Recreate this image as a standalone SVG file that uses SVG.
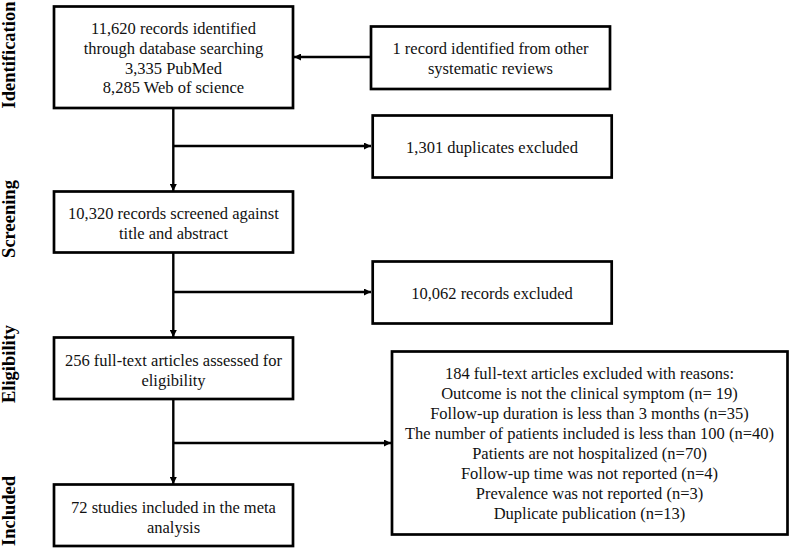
<svg xmlns="http://www.w3.org/2000/svg" width="789" height="549" viewBox="0 0 789 549">
<style>
.box{fill:#fff;stroke:#000;stroke-width:2.7}
.t{font-family:"Liberation Serif","Times New Roman",serif;font-size:16.5px;fill:#111;text-anchor:middle}
.lab{font-family:"Liberation Serif","Times New Roman",serif;font-size:18.5px;font-weight:bold;fill:#000;text-anchor:middle}
.c{fill:none;stroke:#000;stroke-width:2.4}
</style>
<defs>
<marker id="ah" viewBox="0 0 10 10" refX="10" refY="5" markerWidth="9" markerHeight="7" markerUnits="userSpaceOnUse" orient="auto">
<path d="M0,0 L10,5 L0,10 z" fill="#000"/>
</marker>
</defs>
<rect width="789" height="549" fill="#fff"/>
<g id="labels">
<text class="lab" transform="translate(15,55) rotate(-90)">Identification</text>
<text class="lab" transform="translate(15,219) rotate(-90)">Screening</text>
<text class="lab" transform="translate(15,364) rotate(-90)">Eligibility</text>
<text class="lab" transform="translate(15,511) rotate(-90)">Included</text>
</g>
<g id="connectors">
<line class="c" x1="173.3" y1="108" x2="173.3" y2="191" marker-end="url(#ah)"/>
<line class="c" x1="173.3" y1="146" x2="371" y2="146" marker-end="url(#ah)"/>
<line class="c" x1="371" y1="57" x2="294" y2="57" marker-end="url(#ah)"/>
<line class="c" x1="173.3" y1="252" x2="173.3" y2="337" marker-end="url(#ah)"/>
<line class="c" x1="173.3" y1="292" x2="371" y2="292" marker-end="url(#ah)"/>
<line class="c" x1="173.3" y1="399" x2="173.3" y2="484" marker-end="url(#ah)"/>
<line class="c" x1="173.3" y1="443" x2="391" y2="443" marker-end="url(#ah)"/>
</g>
<g id="n1">
<rect class="box" x="54" y="6.5" width="239" height="101.5"/>
<text class="t" x="173.5" y="34">11,620 records identified</text>
<text class="t" x="173.5" y="53.5">through database searching</text>
<text class="t" x="173.5" y="73.5">3,335 PubMed</text>
<text class="t" x="173.5" y="93">8,285 Web of science</text>
</g>
<g id="n2">
<rect class="box" x="371" y="26.5" width="239" height="62.5"/>
<text class="t" x="490.5" y="54">1 record identified from other</text>
<text class="t" x="490.5" y="74">systematic reviews</text>
</g>
<g id="n3">
<rect class="box" x="372.7" y="115.5" width="239" height="62"/>
<text class="t" x="492" y="152.5">1,301 duplicates excluded</text>
</g>
<g id="n4">
<rect class="box" x="54" y="191.5" width="239" height="61"/>
<text class="t" x="173.5" y="219">10,320 records screened against</text>
<text class="t" x="173.5" y="238.5">title and abstract</text>
</g>
<g id="n5">
<rect class="box" x="372.7" y="261.5" width="239" height="62"/>
<text class="t" x="492" y="298.5">10,062 records excluded</text>
</g>
<g id="n6">
<rect class="box" x="54" y="337.5" width="239" height="61.5"/>
<text class="t" x="173.5" y="366">256 full-text articles assessed for</text>
<text class="t" x="173.5" y="386">eligibility</text>
</g>
<g id="n7">
<rect class="box" x="392" y="351.5" width="395.5" height="183"/>
<text class="t" x="589.5" y="378.5">184 full-text articles excluded with reasons:</text>
<text class="t" x="589.5" y="398.5">Outcome is not the clinical symptom (n= 19)</text>
<text class="t" x="589.5" y="418.5">Follow-up duration is less than 3 months (n=35)</text>
<text class="t" x="589.5" y="438.5">The number of patients included is less than 100 (n=40)</text>
<text class="t" x="589.5" y="458.5">Patients are not hospitalized (n=70)</text>
<text class="t" x="589.5" y="478.5">Follow-up time was not reported (n=4)</text>
<text class="t" x="589.5" y="498.5">Prevalence was not reported (n=3)</text>
<text class="t" x="589.5" y="518.5">Duplicate publication (n=13)</text>
</g>
<g id="n8">
<rect class="box" x="54" y="484.5" width="239" height="61.5"/>
<text class="t" x="173.5" y="512.5">72 studies included in the meta</text>
<text class="t" x="173.5" y="532.5">analysis</text>
</g>
</svg>
